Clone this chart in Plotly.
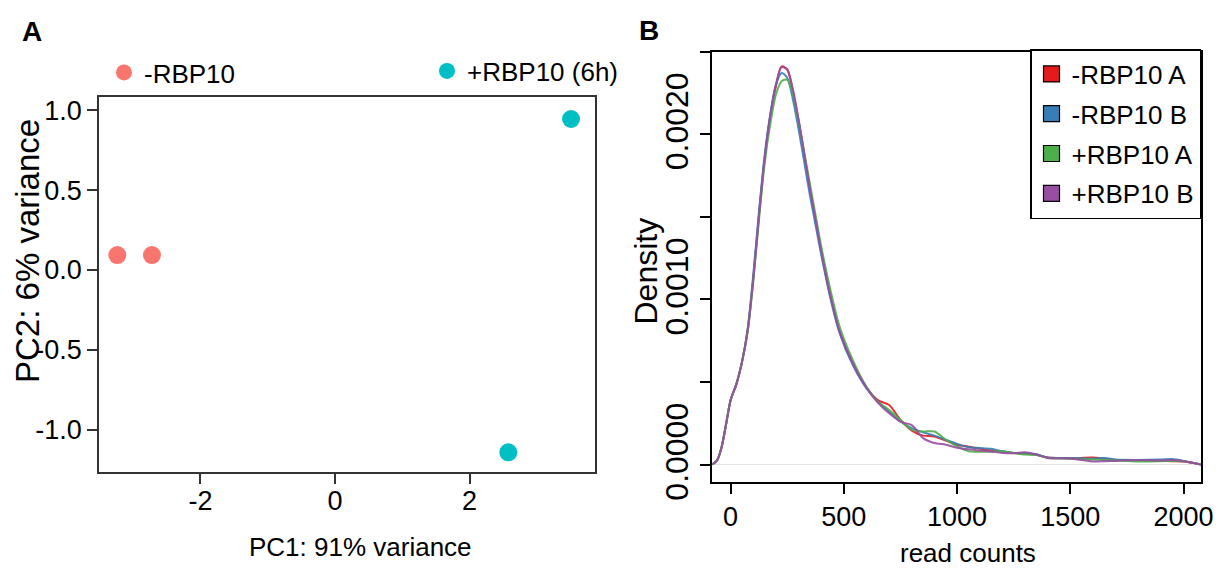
import plotly.graph_objects as go

# ---- panel A: PCA ----
pc1_minus = [-3.235, -2.72]
pc2_minus = [0.094, 0.094]
pc1_plus = [3.507, 2.575]
pc2_plus = [0.946, -1.142]
pca_groups = ["-RBP10", "+RBP10 (6h)"]
pca_colors = ["#F8766D", "#00BFC4"]

# ---- panel B: read count densities ----
read_counts = [-81, -60, -40, -20, 0, 25, 50, 75, 100, 125, 150, 175, 200, 225, 250,
               275, 300, 325, 350, 375, 400, 440, 480, 540, 600, 650, 700, 750, 800,
               850, 900, 950, 1000, 1050, 1100, 1150, 1200, 1250, 1300, 1350, 1400,
               1500, 1600, 1650, 1700, 1800, 1900, 1950, 2000, 2077]

dens_minus_a = [0.0, 0.000025, 0.000105, 0.000245, 0.00039, 0.000485, 0.00062, 0.00081,
                0.00113, 0.00151, 0.00185, 0.00211, 0.00229, 0.00241, 0.00239, 0.00226,
                0.00208, 0.00188, 0.00167, 0.00148, 0.00129, 0.00103, 0.00081, 0.00061,
                0.000465, 0.00039, 0.00036, 0.00027, 0.000205, 0.000175, 0.00017,
                0.000145, 0.00012, 0.000108, 0.000095, 0.000085, 0.000078, 0.00007,
                0.000065, 0.00006, 0.000042, 0.000038, 0.000042, 0.000035, 0.000028,
                0.000025, 0.000022, 0.00002, 0.000018, 0.0]
dens_minus_b = [0.0, 0.000025, 0.000105, 0.000245, 0.00039, 0.000485, 0.00062, 0.00082,
                0.00115, 0.00153, 0.00187, 0.00212, 0.00230, 0.00237, 0.00234, 0.00221,
                0.00203, 0.00183, 0.00163, 0.00145, 0.00127, 0.00101, 0.0008, 0.0006,
                0.00046, 0.00038, 0.00032, 0.00026, 0.00022, 0.000195, 0.000175,
                0.00015, 0.000125, 0.000105, 0.0001, 0.000095, 0.00008, 0.00007,
                0.000068, 0.000062, 0.000042, 0.00004, 0.000035, 0.00004, 0.00003,
                0.000028, 0.00003, 0.000033, 0.000022, 0.0]
dens_plus_a = [0.0, 0.000025, 0.000105, 0.000245, 0.00039, 0.000485, 0.00062, 0.0008,
               0.00111, 0.00148, 0.00182, 0.00206, 0.00224, 0.00232, 0.00233, 0.00224,
               0.00208, 0.00189, 0.0017, 0.00151, 0.00132, 0.00106, 0.00084, 0.00063,
               0.00047, 0.00038, 0.00033, 0.00027, 0.00021, 0.0002, 0.0002, 0.00015,
               0.00011, 0.00008, 0.000078, 0.000078, 0.00008, 0.00007, 0.00006,
               0.000058, 0.00004, 0.000035, 0.00003, 0.000028, 0.000025, 0.000018,
               0.00002, 0.000022, 0.00002, 0.0]
dens_plus_b = [0.0, 0.000025, 0.000105, 0.000245, 0.00039, 0.000485, 0.00062, 0.00081,
               0.00112, 0.0015, 0.00185, 0.00211, 0.0023, 0.002405, 0.00239, 0.00227,
               0.00209, 0.00188, 0.00167, 0.00148, 0.00129, 0.00102, 0.00081, 0.00061,
               0.000465, 0.000375, 0.00031, 0.00026, 0.000238, 0.00016, 0.00013,
               0.00012, 0.000102, 0.000092, 0.000085, 0.000078, 0.00007, 0.000068,
               0.000074, 0.00006, 0.00004, 0.000037, 0.000018, 0.00002, 0.000022,
               0.000027, 0.000024, 0.000027, 0.00002, 0.0]

dens_names = ["-RBP10 A", "-RBP10 B", "+RBP10 A", "+RBP10 B"]
dens_series = [dens_minus_a, dens_minus_b, dens_plus_a, dens_plus_b]
dens_colors = ["#E41A1C", "#377EB8", "#4DAF4A", "#984EA3"]

# the page body keeps its 8px margin, so the figure is 8px smaller each way
OFF = 8
W, H = 1221 - OFF, 572 - OFF
FONT = "Liberation Sans, Arial, sans-serif"


def px(x):
    return (x - OFF) / W


def py(y):
    return 1 - (y - OFF) / H


fig = go.Figure()

fig.add_trace(go.Scatter(x=pc1_minus, y=pc2_minus, mode="markers", name=pca_groups[0],
                         marker=dict(color=pca_colors[0], size=18), legend="legend2",
                         xaxis="x", yaxis="y"))
fig.add_trace(go.Scatter(x=pc1_plus, y=pc2_plus, mode="markers", name=pca_groups[1],
                         marker=dict(color=pca_colors[1], size=18), legend="legend3",
                         xaxis="x", yaxis="y"))

for name, ys, col in zip(dens_names, dens_series, dens_colors):
    fig.add_trace(go.Scatter(x=read_counts, y=ys, mode="lines", showlegend=False,
                             line=dict(color=col, width=2, shape="spline", smoothing=0.8),
                             xaxis="x2", yaxis="y2", opacity=0.9))

# square keys for the density legend
for i, (name, col) in enumerate(zip(dens_names, dens_colors)):
    fig.add_trace(go.Scatter(x=[None], y=[None], mode="markers", name=name,
                             legendgroup=f"g{i}", legend="legend",
                             marker=dict(symbol="square", color=col, size=16,
                                         line=dict(color="black", width=1.2)),
                             xaxis="x2", yaxis="y2"))

axA = dict(showline=True, linecolor="#333333", linewidth=1.8, mirror=True,
           ticks="outside", ticklen=10, tickwidth=1.8, tickcolor="#333333",
           showgrid=False, zeroline=False, automargin=False,
           tickfont=dict(family=FONT, size=27, color="black"))
axB = dict(showline=True, linecolor="black", linewidth=2, mirror=True,
           ticks="outside", ticklen=10, tickwidth=1.8, tickcolor="black",
           showgrid=False, automargin=False)

fig.update_layout(
    width=W, height=H,
    margin=dict(l=0, r=0, t=0, b=0, autoexpand=False),
    paper_bgcolor="white", plot_bgcolor="white",
    xaxis=dict(axA, domain=[px(99), px(595)], range=[-3.507, 3.863],
               tickvals=[-2, 0, 2], ticktext=["-2", "0", "2"], anchor="y",
               ticklabelstandoff=-7),
    yaxis=dict(axA, domain=[py(472.3), py(97.3)], range=[-1.267, 1.082],
               tickvals=[-1, -0.5, 0, 0.5, 1],
               ticktext=["-1.0", "-0.5", "0.0", "0.5", "1.0"], anchor="x"),
    xaxis2=dict(axB, domain=[px(712.3), px(1201)], range=[-81, 2077],
                tickvals=[0, 500, 1000, 1500, 2000], anchor="y2", zeroline=False,
                tickfont=dict(family=FONT, size=27, color="black")),
    yaxis2=dict(axB, domain=[py(481.7), py(51.5)], range=[-0.000104, 0.0025],
                tickvals=[0, 0.0005, 0.001, 0.0015, 0.002, 0.0025],
                ticktext=["0.0000", "", "0.0010", "", "0.0020", ""],
                tickangle=-90, anchor="x2", ticklabelshift=-8,
                zeroline=True, zerolinecolor="#E6E6E6", zerolinewidth=1.2,
                tickfont=dict(family=FONT, size=32, color="black")),
    legend=dict(x=px(1201), y=py(49), xanchor="right", yanchor="top",
                bgcolor="white", bordercolor="black", borderwidth=1.5,
                traceorder="grouped", tracegroupgap=3,
                font=dict(family=FONT, size=26, color="black")),
    legend2=dict(x=px(104), y=py(72.5), xanchor="left", yanchor="middle",
                 bgcolor="rgba(0,0,0,0)", borderwidth=0,
                 font=dict(family=FONT, size=26, color="black")),
    legend3=dict(x=px(427), y=py(71), xanchor="left", yanchor="middle",
                 bgcolor="rgba(0,0,0,0)", borderwidth=0,
                 font=dict(family=FONT, size=26, color="black")),
)

labels = [
    ("<b>A</b>", 32, 32, 0, 28),
    ("<b>B</b>", 649, 31, 0, 28),
    ("PC1: 91% variance", 360, 547, 0, 26),
    ("PC2: 6% variance", 27, 251, -90, 33),
    ("Density", 645, 271.5, -90, 32),
    ("read counts", 968, 553, 0, 26),
]
for text, x, y, ang, size in labels:
    fig.add_annotation(text=text, x=px(x), y=py(y), xref="paper", yref="paper",
                       xanchor="center", yanchor="middle", showarrow=False,
                       textangle=ang, font=dict(family=FONT, size=size, color="black"))

fig.write_html("out.html")
